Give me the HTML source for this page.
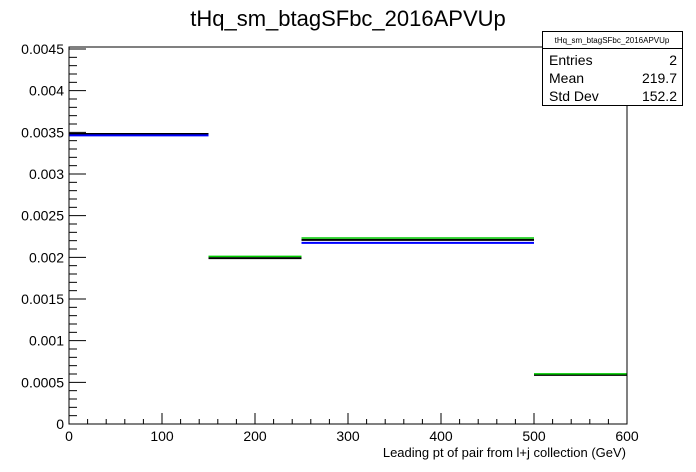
<!DOCTYPE html>
<html><head><meta charset="utf-8"><style>
html,body{margin:0;padding:0;background:#fff;}
svg{display:block;font-family:"Liberation Sans",sans-serif;}
</style></head><body>
<svg id="c" width="696" height="472" xmlns="http://www.w3.org/2000/svg">
<rect x="0" y="0" width="696" height="472" fill="#fff"/>
<text x="348" y="26" font-size="22" text-anchor="middle">tHq_sm_btagSFbc_2016APVUp</text>
<g id="axes"></g>
<g id="series"></g>
<rect x="69" y="47" width="558" height="377" fill="none" stroke="#000" stroke-width="1"/>
<text x="626" y="457" font-size="13" text-anchor="end">Leading pt of pair from l+j collection (GeV)</text>
<g>
<rect x="542.5" y="31.5" width="140" height="74" fill="#fff" stroke="#000" stroke-width="1"/>
<line x1="542.5" y1="48.5" x2="682.5" y2="48.5" stroke="#000"/>
<text x="612" y="43" font-size="8" text-anchor="middle">tHq_sm_btagSFbc_2016APVUp</text>
<text x="549" y="65" font-size="14">Entries</text>
<text x="677" y="65" font-size="14" text-anchor="end">2</text>
<text x="549" y="83" font-size="14">Mean</text>
<text x="677" y="83" font-size="14" text-anchor="end">219.7</text>
<text x="549" y="101" font-size="14">Std Dev</text>
<text x="677" y="101" font-size="14" text-anchor="end">152.2</text>
</g>
</svg>
<script>
const binEdges = [0, 150, 250, 500, 600];
const blackValues = [0.00348, 0.00199, 0.00221, 0.00059];
const blueValues = [0.00347, null, 0.00218, null];
const greenValues = [null, 0.00200, 0.00222, 0.00059];
const xTickLabels = ["0","100","200","300","400","500","600"];
const yTickLabels = ["0","0.0005","0.001","0.0015","0.002","0.0025","0.003","0.0035","0.004","0.0045"];

const X0=69, X1=627, Y0=424, Y1=49;
const xs = v => X0 + (v/600)*(X1-X0);
const ys = v => Y0 - (v/0.0045)*(Y0-Y1);
const NS="http://www.w3.org/2000/svg";
const axes=document.getElementById('axes');
const series=document.getElementById('series');
function line(p,x1,y1,x2,y2,col,w){
  const l=document.createElementNS(NS,'line');
  l.setAttribute('x1',x1);l.setAttribute('y1',y1);l.setAttribute('x2',x2);l.setAttribute('y2',y2);
  l.setAttribute('stroke',col);l.setAttribute('stroke-width',w);
  p.appendChild(l);return l;
}
function text(p,x,y,s,anchor){
  const t=document.createElementNS(NS,'text');
  t.setAttribute('x',x);t.setAttribute('y',y);t.setAttribute('font-size','14');
  t.setAttribute('text-anchor',anchor);t.textContent=s;p.appendChild(t);return t;
}
for(let v=0;v<=600;v+=20){
  const major=v%100===0;
  const l=line(axes,xs(v),Y0,xs(v),Y0-(major?11:5),'#000',1);
  
  
}
xTickLabels.forEach(s=>{
  const t=text(axes,xs(+s),441,s,'middle');
  
  
});
for(let i=0;i<=45;i++){
  const v=i*0.0001;
  const major=i%5===0;
  const l=line(axes,X0,ys(v),X0+(major?17:8),ys(v),'#000',1);
  
  
}
yTickLabels.forEach(s=>{
  const t=text(axes,64,ys(+s)+5,s,'end');
  
  
});
function drawSeries(vals,col,name,off,w){
  vals.forEach((v,i)=>{
    if(v===null) return;
    const l=line(series,xs(binEdges[i]),ys(v)+off,xs(binEdges[i+1]),ys(v)+off,col,w);
    
    
  });
}
drawSeries(blackValues,'#000000','black-bin',0,2);
drawSeries(blueValues,'#0000ff','blue-bin',0.5,2);
drawSeries(greenValues,'#00cc00','green-bin',-1,1.5);
</script>
</body></html>
